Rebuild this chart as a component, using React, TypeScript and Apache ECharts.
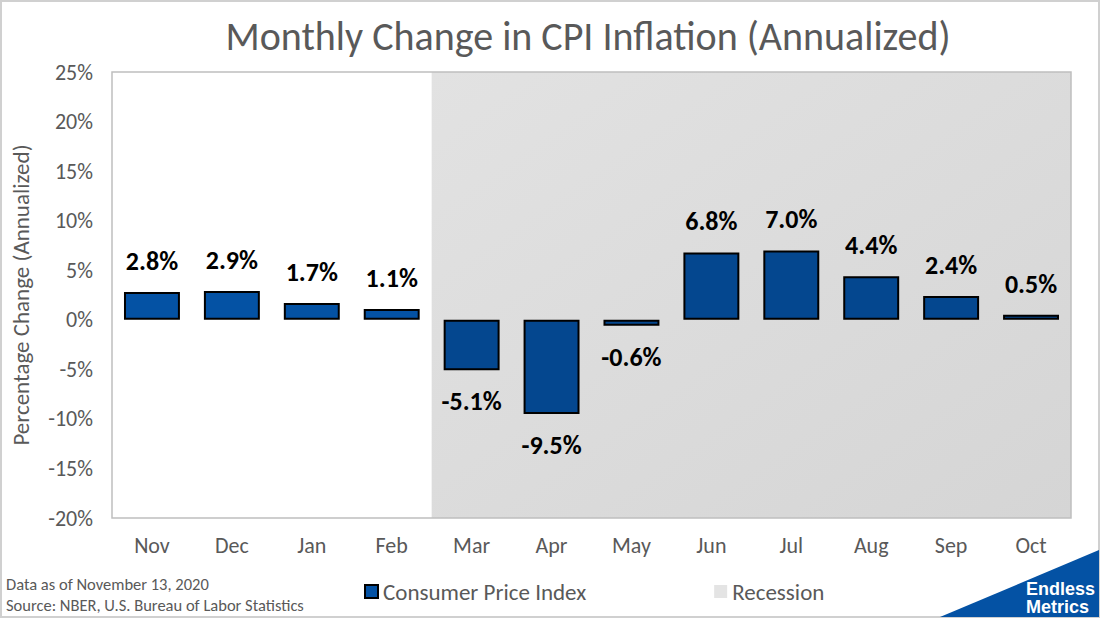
import { useEffect, useRef } from 'react';
import * as echarts from 'echarts';

const months = ['Nov', 'Dec', 'Jan', 'Feb', 'Mar', 'Apr', 'May', 'Jun', 'Jul', 'Aug', 'Sep', 'Oct'];
const cpiChange = [2.8, 2.9, 1.7, 1.1, -5.1, -9.5, -0.6, 6.8, 7.0, 4.4, 2.4, 0.5];
const recessionFrom = 'Mar';
const yMin = -20;
const yMax = 25;
const yStep = 5;

const FONT = 'Carlito, Calibri, Lato, sans-serif';
const GREY_TEXT = '#595959';

export default function App() {
  const ref = useRef<HTMLDivElement>(null);

  useEffect(() => {
    if (!ref.current) return;
    const chart = echarts.init(ref.current, undefined, { renderer: 'svg' });
    const recIdx = months.indexOf(recessionFrom);

    chart.setOption({
      animation: false,
      backgroundColor: '#fff',
      textStyle: { fontFamily: FONT },
      title: {
        text: 'Monthly Change in CPI Inflation (Annualized)',
        left: 583,
        textAlign: 'center',
        top: 11,
        textStyle: { fontFamily: FONT, fontSize: 40, fontWeight: 'normal', color: GREY_TEXT },
      },
      grid: {
        left: 112,
        right: 29,
        top: 72,
        bottom: 100,
        show: true,
        z: 10,
        backgroundColor: 'transparent',
        borderColor: '#bfbfbf',
        borderWidth: 1.5,
      },
      legend: {
        left: 359,
        top: 575,
        icon: 'rect',
        itemWidth: 13,
        itemHeight: 13,
        itemGap: 128,
        textStyle: { fontFamily: FONT, fontSize: 23, color: GREY_TEXT },
        data: [
          {
            name: 'Consumer Price Index',
            itemStyle: { color: '#0452A4', borderColor: '#000', borderWidth: 2 },
          },
          { name: 'Recession', itemStyle: { color: '#dddddd', borderWidth: 0 } },
        ],
      },
      xAxis: [
        {
          type: 'category',
          data: months,
          axisLine: { show: false, onZero: false },
          axisTick: { show: false },
          axisLabel: { fontFamily: FONT, fontSize: 22, color: GREY_TEXT, margin: 16 },
        },
        { type: 'value', min: 0, max: months.length, show: false },
      ],
      yAxis: {
        type: 'value',
        min: yMin,
        max: yMax,
        interval: yStep,
        name: 'Percentage Change (Annualized)',
        nameLocation: 'middle',
        nameRotate: 90,
        nameGap: 80,
        nameTextStyle: { fontFamily: FONT, fontSize: 23, color: GREY_TEXT },
        splitLine: { show: false },
        axisLine: { show: false },
        axisTick: { show: false },
        axisLabel: {
          fontFamily: FONT,
          fontSize: 22,
          color: GREY_TEXT,
          margin: 19,
          formatter: (v: number) => `${v}%`,
        },
      },
      series: [
        {
          name: 'Recession',
          type: 'scatter',
          xAxisIndex: 1,
          z: 0,
          data: [],
          itemStyle: { color: '#dddddd' },
          markArea: {
            silent: true,
            itemStyle: {
              color: new echarts.graphic.LinearGradient(0, 0, 1, 1, [
                { offset: 0, color: '#e2e2e2' },
                { offset: 1, color: '#d5d5d5' },
              ]),
            },
            data: [[{ xAxis: recIdx, yAxis: yMax }, { xAxis: months.length, yAxis: yMin }]],
          },
        },
        {
          name: 'Consumer Price Index',
          type: 'bar',
          z: 5,
          barCategoryGap: '30%',
          itemStyle: { borderColor: '#000', borderWidth: 2 },
          label: {
            show: true,
            fontFamily: FONT,
            fontSize: 26,
            fontWeight: 'bold',
            color: '#000',
            distance: 18,
            formatter: (p: any) => `${Number(p.value).toFixed(1)}%`,
          },
          data: cpiChange.map((v, i) => ({
            value: v,
            itemStyle: { color: i >= recIdx ? '#04478F' : '#0452A4' },
            label: { position: v >= 0 ? 'top' : 'bottom' },
          })),
        },
      ],
      graphic: [
        {
          type: 'rect',
          silent: true,
          shape: { x: 1, y: 1, width: 1098, height: 616 },
          style: { fill: 'none', stroke: '#d0d0d0', lineWidth: 2 },
        },
        {
          type: 'text',
          left: 6,
          top: 575,
          style: { text: 'Data as of November 13, 2020', font: `16.5px ${FONT}`, fill: GREY_TEXT },
        },
        {
          type: 'text',
          left: 6,
          top: 596,
          style: {
            text: 'Source: NBER, U.S. Bureau of Labor Statistics',
            font: `16.5px ${FONT}`,
            fill: GREY_TEXT,
          },
        },
        {
          type: 'polygon',
          silent: true,
          shape: { points: [[940, 617], [1099, 550], [1099, 617]] },
          style: { fill: '#0452A4' },
        },
        {
          type: 'text',
          right: 5,
          top: 580,
          style: {
            text: 'Endless\nMetrics',
            font: 'bold 18px "Liberation Sans", Arial, sans-serif',
            fill: '#fff',
            align: 'right',
            lineHeight: 18,
          },
        },
      ],
    });

    return () => chart.dispose();
  }, []);

  return (
    <div
      ref={ref}
      style={{ position: 'absolute', left: 0, top: 0, width: 1100, height: 618 }}
    />
  );
}
